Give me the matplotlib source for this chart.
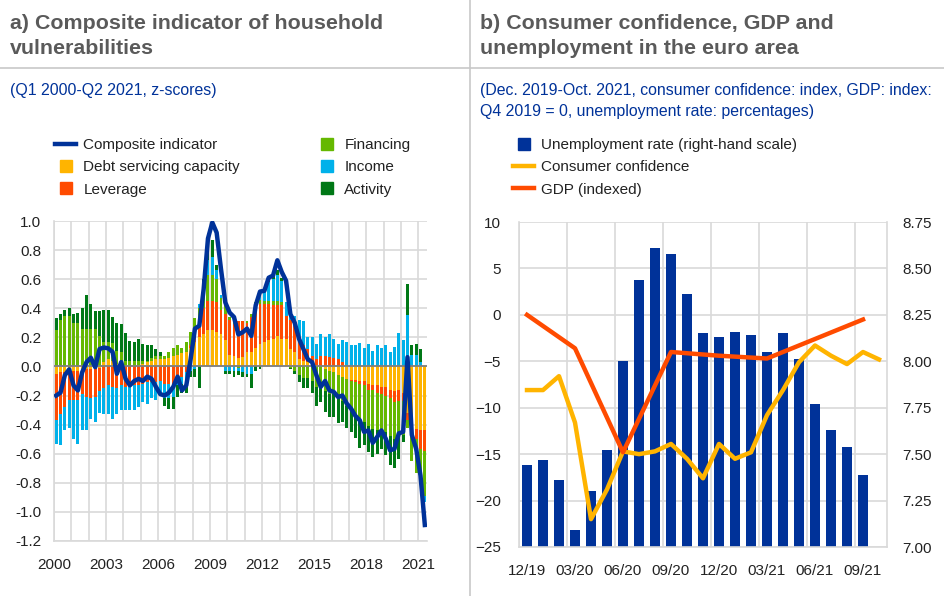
import numpy as np
import matplotlib.pyplot as plt
from matplotlib.lines import Line2D

plt.rcParams['font.family'] = ['Liberation Sans', 'DejaVu Sans']

# ---- panel a) data: Q1 2000 - Q2 2021, z-scores (read off the chart) ----
start_year = 2000
composite = [-0.20, -0.18, -0.06, -0.02, -0.13, -0.165, -0.04, 0.03, 0.06, -0.005,
             0.12, 0.13, 0.125, 0.10, -0.05, 0.03, -0.085, -0.13, -0.10, -0.085,
             -0.10, -0.07, -0.085, -0.14, -0.19, -0.20, -0.18, -0.14, -0.07, -0.165,
             -0.13, 0.05, 0.26, 0.28, 0.53, 0.88, 0.99, 0.92, 0.67, 0.44,
             0.37, 0.34, 0.22, 0.235, 0.26, 0.21, 0.42, 0.515, 0.52, 0.61,
             0.625, 0.73, 0.65, 0.59, 0.36, 0.30, 0.19, 0.12, 0.05, 0.03,
             -0.06, -0.14, -0.10, -0.165, -0.175, -0.21, -0.20, -0.255, -0.29, -0.34,
             -0.37, -0.45, -0.44, -0.525, -0.485, -0.44, -0.497, -0.577, -0.566, -0.46,
             -0.45, 0.064, -0.47, -0.566, -0.75, -1.09]

debt_servicing = [-0.05, -0.04, -0.04, -0.03, -0.03, -0.03, -0.02, -0.02,
                  -0.02, -0.01, -0.01, 0.03, 0.05, 0.04, 0.02, 0.02,
                  0.01, 0.00, 0.00, 0.01, 0.02, 0.03, 0.04, 0.05,
                  0.05, 0.05, 0.06, 0.07, 0.08, 0.09, 0.10, 0.13,
                  0.17, 0.20, 0.22, 0.25, 0.25, 0.24, 0.22, 0.18,
                  0.08, 0.07, 0.06, 0.064, 0.10, 0.10, 0.13, 0.156,
                  0.167, 0.18, 0.19, 0.21, 0.19, 0.19, 0.12, 0.10,
                  0.05, 0.04, 0.03, 0.03, 0.007, 0.00, -0.02, -0.03,
                  -0.04, -0.06, -0.07, -0.085, -0.09, -0.09, -0.10, -0.10,
                  -0.12, -0.13, -0.13, -0.14, -0.14, -0.16, -0.17, -0.165,
                  -0.18, -0.32, -0.36, -0.43, -0.44, -0.44]

leverage = [-0.32, -0.29, -0.24, -0.20, -0.20, -0.20, -0.17, -0.19,
            -0.20, -0.20, -0.16, -0.15, -0.13, -0.14, -0.15, -0.13,
            -0.14, -0.14, -0.13, -0.13, -0.12, -0.11, -0.11, -0.11,
            -0.10, -0.12, -0.12, -0.12, -0.08, -0.07, -0.04, 0.02,
            0.08, 0.10, 0.18, 0.20, 0.20, 0.20, 0.17, 0.18,
            0.24, 0.22, 0.25, 0.25, 0.20, 0.24, 0.29, 0.27,
            0.26, 0.25, 0.23, 0.21, 0.23, 0.16, 0.20, 0.18,
            0.15, 0.105, 0.09, 0.045, 0.043, 0.075, 0.075, 0.064,
            0.06, 0.05, 0.03, 0.01, -0.01, -0.02, -0.02, -0.03,
            -0.04, -0.035, -0.05, -0.05, -0.06, -0.06, -0.075, -0.07,
            -0.06, -0.05, -0.09, -0.07, -0.13, -0.14]

financing = [0.25, 0.32, 0.35, 0.35, 0.30, 0.30, 0.26, 0.26,
             0.255, 0.255, 0.21, 0.14, 0.12, 0.12, 0.085, 0.08,
             0.03, 0.037, 0.04, 0.03, 0.02, 0.01, 0.02, 0.02,
             0.02, 0.025, 0.04, 0.06, 0.065, 0.04, 0.07, 0.085,
             0.08, 0.10, 0.12, 0.18, 0.18, 0.16, 0.08, 0.06,
             0.02, 0.02, -0.01, 0.00, 0.01, 0.02, 0.02, 0.03,
             0.02, 0.02, 0.03, 0.03, 0.02, 0.00, -0.01, -0.03,
             -0.06, -0.08, -0.08, -0.10, -0.14, -0.13, -0.15, -0.16,
             -0.15, -0.14, -0.17, -0.185, -0.20, -0.22, -0.24, -0.25,
             -0.25, -0.265, -0.26, -0.24, -0.25, -0.26, -0.255, -0.23,
             -0.23, -0.05, -0.20, -0.23, -0.21, -0.31]

income = [-0.16, -0.21, -0.16, -0.19, -0.27, -0.30, -0.25, -0.23,
          -0.14, -0.17, -0.15, -0.18, -0.20, -0.22, -0.18, -0.17,
          -0.16, -0.16, -0.17, -0.15, -0.125, -0.15, -0.105, -0.12,
          -0.09, -0.10, -0.10, -0.09, -0.05, -0.05, -0.05, -0.03,
          -0.02, 0.03, 0.05, 0.10, 0.12, 0.06, 0.02, -0.03,
          -0.03, -0.03, -0.02, -0.04, -0.05, -0.05, 0.00, 0.03,
          0.08, 0.13, 0.15, 0.18, 0.15, 0.09, 0.04, 0.07,
          0.12, 0.17, 0.08, 0.125, 0.106, 0.15, 0.125, 0.16,
          0.13, 0.106, 0.15, 0.157, 0.145, 0.145, 0.163, 0.128,
          0.156, 0.105, 0.145, 0.126, 0.145, 0.10, 0.133, 0.23,
          0.18, 0.355, 0.076, 0.08, 0.03, -0.04]

activity = [0.08, 0.04, 0.04, 0.05, 0.06, 0.07, 0.14, 0.23,
            0.175, 0.125, 0.17, 0.22, 0.22, 0.18, 0.195, 0.19,
            0.19, 0.14, 0.13, 0.15, 0.116, 0.105, 0.09, 0.05,
            0.03, -0.05, -0.07, -0.08, -0.08, -0.06, -0.09, -0.04,
            -0.05, -0.15, 0.03, 0.07, 0.12, 0.04, 0.00, -0.02,
            -0.02, -0.04, -0.03, -0.03, -0.02, -0.10, -0.03, -0.02,
            0.00, 0.02, 0.02, 0.03, 0.02, 0.00, -0.01, -0.02,
            -0.05, -0.07, -0.07, -0.08, -0.13, -0.115, -0.14, -0.16,
            -0.16, -0.19, -0.14, -0.15, -0.15, -0.16, -0.20, -0.16,
            -0.18, -0.19, -0.16, -0.135, -0.157, -0.196, -0.20, -0.17,
            -0.05, 0.215, 0.069, 0.076, 0.09, 0.00]

components = ['Debt servicing capacity', 'Leverage', 'Financing', 'Income', 'Activity']
comp_colors = ['#FFB400', '#FF4B00', '#65B800', '#00B1EA', '#007816']

# ---- panel b) data: Dec 2019 - Oct 2021 ----
months = ['12/19', '01/20', '02/20', '03/20', '04/20', '05/20', '06/20', '07/20',
          '08/20', '09/20', '10/20', '11/20', '12/20', '01/21', '02/21', '03/21',
          '04/21', '05/21', '06/21', '07/21', '08/21', '09/21', '10/21']
unemployment = [7.44, 7.47, 7.36, 7.09, 7.30, 7.52, 8.00, 8.44, 8.61, 8.58, 8.36, 8.15,
                8.13, 8.16, 8.14, 8.05, 8.15, 8.01, 7.77, 7.63, 7.54, 7.39, np.nan]
confidence = [-8.1, -8.1, -6.6, -11.6, -22.0, -18.8, -14.7, -15.0, -14.7, -13.9, -15.5, -17.6,
              -13.9, -15.5, -14.8, -10.8, -8.1, -5.1, -3.3, -4.4, -5.3, -4.0, -4.8]
gdp_months = ['12/19', '03/20', '06/20', '09/20', '12/20', '03/21', '06/21', '09/21']
gdp = [0.0, -3.6, -14.8, -4.0, -4.4, -4.7, -2.6, -0.5]

blue = '#003299'
grid_c = '#d9d9d9'
title_c = '#5a5a5a'
txt_c = '#222222'

W, H = 945, 596
fig = plt.figure(figsize=(W / 100, H / 100), dpi=100)

# ================= panel a =================
ax1 = fig.add_axes([54 / W, 1 - 541 / H, 373 / W, 320 / H])
xq = start_year + 0.25 * np.arange(len(composite)) + 0.125

data = np.array([debt_servicing, leverage, financing, income, activity])
pos_bottom = np.zeros(len(composite))
neg_bottom = np.zeros(len(composite))
for vals, name, c in zip(data, components, comp_colors):
    bottom = np.where(vals >= 0, pos_bottom, neg_bottom)
    ax1.bar(xq, vals, width=0.17, bottom=bottom, color=c, linewidth=0, zorder=2)
    pos_bottom += np.clip(vals, 0, None)
    neg_bottom += np.clip(vals, None, 0)

ax1.plot(xq, composite, color=blue, lw=3.2, zorder=4, solid_joinstyle='round')
ax1.axhline(0, color='#7f7f7f', lw=1.3, zorder=3)

yt = np.round(np.arange(-1.2, 1.01, 0.2), 1)
ax1.set_xlim(2000, 2021.5)
ax1.set_ylim(-1.2, 1.0)
ax1.set_yticks(yt)
ax1.set_yticklabels([f'{v + 0:.1f}' for v in yt])
ax1.set_xticks(range(2000, 2022, 3))
ax1.set_xticks(range(2000, 2022), minor=True)
ax1.grid(True, which='both', color=grid_c, lw=1.2, zorder=0)
ax1.set_axisbelow(True)
ax1.tick_params(which='both', length=0, labelsize=11, colors=txt_c)
ax1.tick_params(axis='y', pad=9)
ax1.tick_params(axis='x', pad=12)
for s in ['top', 'right']:
    ax1.spines[s].set_visible(False)
for s in ['left', 'bottom']:
    ax1.spines[s].set_color(grid_c)
    ax1.spines[s].set_linewidth(1.2)

h_comp = [Line2D([], [], color=blue, lw=3.2)]
h_bars = [Line2D([], [], color=c, marker='s', markersize=9, linestyle='none') for c in comp_colors]
leg_kw = dict(frameon=False, fontsize=11, handlelength=1.4, handletextpad=0.45,
              labelspacing=0.55, borderpad=0, borderaxespad=0, labelcolor=txt_c)
fig.legend(h_comp + h_bars[:2], ['Composite indicator'] + components[:2],
           loc='upper left', bbox_to_anchor=(55 / W, 1 - 138 / H), **leg_kw)
fig.legend(h_bars[2:], components[2:],
           loc='upper left', bbox_to_anchor=(316 / W, 1 - 138 / H), **leg_kw)

# ================= panel b =================
ax2 = fig.add_axes([519 / W, 1 - 547 / H, 368 / W, 325 / H])
xm = np.arange(len(months))
ax2.bar(xm, unemployment, width=0.62, color=blue, zorder=2)

ax3 = ax2.twinx()
ax3.plot(xm, confidence, color='#FFB400', lw=3.2, zorder=3)
ax3.plot([months.index(m) for m in gdp_months], gdp, color='#FF4B00', lw=3.2, zorder=4)
ax3.set_ylim(-25, 10)
ax3.set_yticks(range(-25, 11, 5))
ax3.yaxis.tick_left()
ax3.tick_params(length=0, labelsize=11, colors=txt_c, pad=13)
for s in ax3.spines.values():
    s.set_visible(False)

ut = np.arange(7.0, 8.76, 0.25)
ax2.set_ylim(7.0, 8.75)
ax2.set_yticks(ut)
ax2.set_yticklabels([f'{v:.2f}' for v in ut])
ax2.yaxis.tick_right()
ax2.set_xlim(-0.5, len(months) - 0.5)
ax2.set_xticks(xm[::3])
ax2.set_xticklabels(months[::3])
ax2.set_xticks(np.arange(-0.5, len(months), 3), minor=True)
ax2.grid(True, axis='y', color=grid_c, lw=1.2, zorder=0)
ax2.grid(True, axis='x', which='minor', color=grid_c, lw=1.2, zorder=0)
ax2.set_axisbelow(True)
ax2.tick_params(which='both', length=0, labelsize=11, colors=txt_c)
ax2.tick_params(axis='y', pad=11)
ax2.tick_params(axis='x', pad=12)
ax2.spines['top'].set_visible(False)
for s in ['left', 'bottom', 'right']:
    ax2.spines[s].set_color(grid_c)
    ax2.spines[s].set_linewidth(1.2)

h_r = [Line2D([], [], color=blue, marker='s', markersize=9, linestyle='none'),
       Line2D([], [], color='#FFB400', lw=3.2),
       Line2D([], [], color='#FF4B00', lw=3.2)]
fig.legend(h_r, ['Unemployment rate (right-hand scale)', 'Consumer confidence', 'GDP (indexed)'],
           loc='upper left', bbox_to_anchor=(513 / W, 1 - 138 / H), **leg_kw)

# ================= titles and frame =================
fig.text(10 / W, 1 - 29 / H, 'a) Composite indicator of household', fontsize=15.4,
         fontweight='bold', color=title_c, va='baseline')
fig.text(10 / W, 1 - 54 / H, 'vulnerabilities', fontsize=15.4,
         fontweight='bold', color=title_c, va='baseline')
fig.text(480 / W, 1 - 29 / H, 'b) Consumer confidence, GDP and', fontsize=15.4,
         fontweight='bold', color=title_c, va='baseline')
fig.text(480 / W, 1 - 54 / H, 'unemployment in the euro area', fontsize=15.4,
         fontweight='bold', color=title_c, va='baseline')
fig.text(10 / W, 1 - 95 / H, '(Q1 2000-Q2 2021, z-scores)', fontsize=11.4,
         color=blue, va='baseline')
fig.text(480 / W, 1 - 95 / H, '(Dec. 2019-Oct. 2021, consumer confidence: index, GDP: index:',
         fontsize=11.4, color=blue, va='baseline')
fig.text(480 / W, 1 - 116 / H, 'Q4 2019 = 0, unemployment rate: percentages)',
         fontsize=11.4, color=blue, va='baseline')

fig.add_artist(Line2D([0, 1], [1 - 68 / H, 1 - 68 / H], color='#c8c8c8', lw=1.2,
                      transform=fig.transFigure))
fig.add_artist(Line2D([470 / W, 470 / W], [0, 1], color='#c8c8c8', lw=1.2,
                      transform=fig.transFigure))

fig.savefig('out.png', dpi=100)
